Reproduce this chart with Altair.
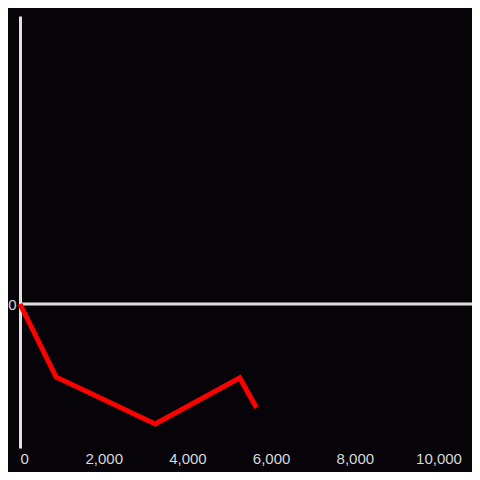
import altair as alt
import pandas as pd

xs = [0, 860, 3230, 5250, 5650]
ys = [0, -76, -125, -77, -108]
x_ticks = [0, 2000, 4000, 6000, 8000, 10000]
y_ticks = [0]

df = pd.DataFrame({"x": xs, "y": ys, "order": list(range(len(xs)))})
zero = pd.DataFrame({"y": [0]})

xscale = alt.Scale(domain=[0, 10800], nice=False, zero=False)
yscale = alt.Scale(domain=[-150, 300], nice=False)

BG = "#060408"

line = alt.Chart(df).mark_line(color="#ff0000", strokeWidth=5, strokeCap="butt", strokeJoin="miter").encode(
    x=alt.X("x:Q", scale=xscale, axis=alt.Axis(values=x_ticks, format=",.0f", domain=False, ticks=False,
                                              grid=False, title=None, labelFontSize=15, labelColor="#d8d8d8",
                                              labelPadding=3, labelFont="Liberation Sans")),
    y=alt.Y("y:Q", scale=yscale, axis=alt.Axis(values=y_ticks, format=",.0f", domain=True, domainColor="#e0e0e0",
                                              domainWidth=3, ticks=False, grid=False, title=None, labelFontSize=15,
                                              labelColor="#d8d8d8", labelPadding=4, labelFont="Liberation Sans")),
    order="order:O",
)

rule = alt.Chart(zero).mark_rule(color="#e0e0e0", strokeWidth=3).encode(y=alt.Y("y:Q", scale=yscale))

chart = alt.layer(rule, line).properties(
    width=452, height=432, autosize=alt.AutoSizeParams(type="none"),
    padding={"left": 12, "top": 8, "right": 0, "bottom": 24},
    background=BG,
).configure_view(stroke=None)

chart.save("out.html", embed_options={"renderer": "svg", "actions": False})
